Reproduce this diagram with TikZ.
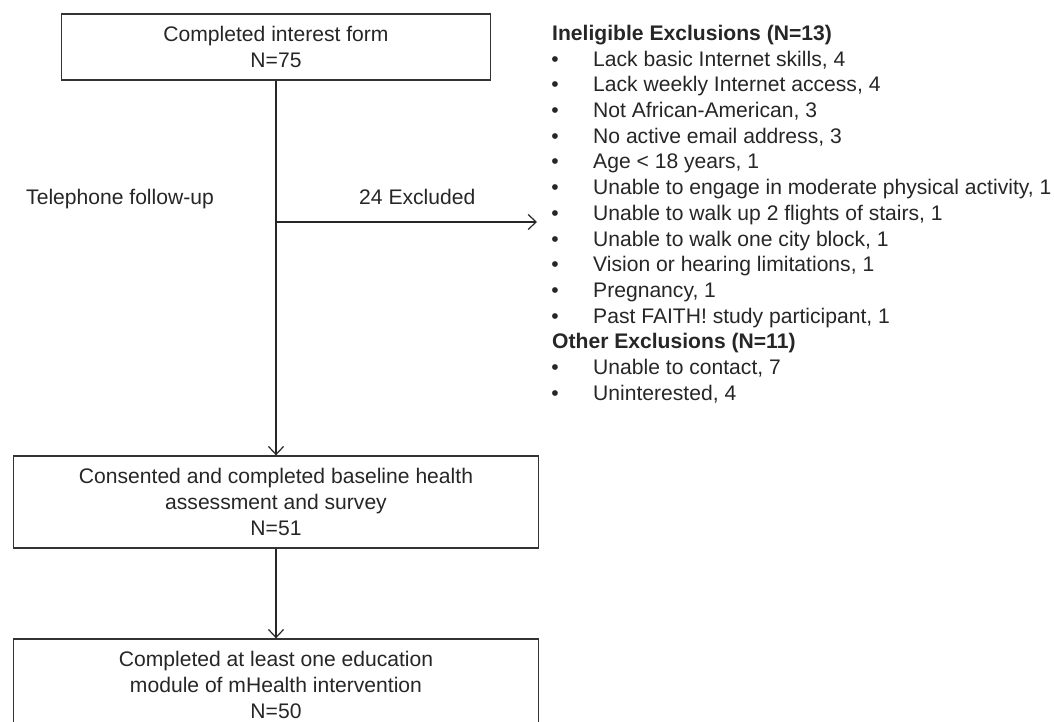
\documentclass[tikz,border=0pt]{standalone}
\usepackage{fontspec}
\setmainfont{Liberation Sans}
\usetikzlibrary{arrows.meta}
\begin{document}
\begin{tikzpicture}[x=1pt,y=-1pt,
  every node/.style={font=\fontsize{21.1}{25.7}\selectfont, inner sep=0pt, text=black!85},
  flowbox/.style={draw=black!80, line width=1.3pt, align=center},
  conn/.style={draw=black!85, line width=1.2pt, -{Straight Barb[length=8pt,width=15pt,line width=1.2pt]}},
  listtext/.style={anchor=base west},
  bulletmark/.style={anchor=base}]
\useasboundingbox (0,0) rectangle (1055,722);
\clip (0,0) rectangle (1055,722);

\node[flowbox, minimum width=429pt, minimum height=66pt] (b1) at (276,47) {Completed interest form\\N=75};
\node[flowbox, minimum width=525.5pt, minimum height=92pt] (b2) at (276,502) {Consented and completed baseline health\\assessment and survey\\N=51};
\node[flowbox, minimum width=525.5pt, minimum height=92pt] (b3) at (276,685) {Completed at least one education\\module of mHealth intervention\\N=50};

\node[listtext] (tel) at (26,204.5) {Telephone follow-up};
\node[listtext] (exc) at (359,204.5) {24 Excluded};

\coordinate (br) at (276,222);
\coordinate (exend) at (537,222);
\draw[conn] (b1.south) -- (b2.north);
\draw[conn] (br) -- (exend);
\draw[conn] (b2.south) -- (b3.north);

\node[listtext] (h1) at (552,40.5) {\textbf{Ineligible Exclusions (N=13)}};
\node[listtext] (h2) at (552,348.9) {\textbf{Other Exclusions (N=11)}};

\foreach \k/\txt in {1/{Lack basic Internet skills, 4},
  2/{Lack weekly Internet access, 4},
  3/{Not African-American, 3},
  4/{No active email address, 3},
  5/{Age < 18 years, 1},
  6/{Unable to engage in moderate physical activity, 1},
  7/{Unable to walk up 2 flights of stairs, 1},
  8/{Unable to walk one city block, 1},
  9/{Vision or hearing limitations, 1},
  10/{Pregnancy, 1},
  11/{Past FAITH! study participant, 1},
  13/{Unable to contact, 7},
  14/{Uninterested, 4}}{
  \node[bulletmark] (bu\k) at (555,40.5+25.7*\k) {•};
  \node[listtext] (it\k) at (593,40.5+25.7*\k) {\txt};
}
\end{tikzpicture}
\end{document}
